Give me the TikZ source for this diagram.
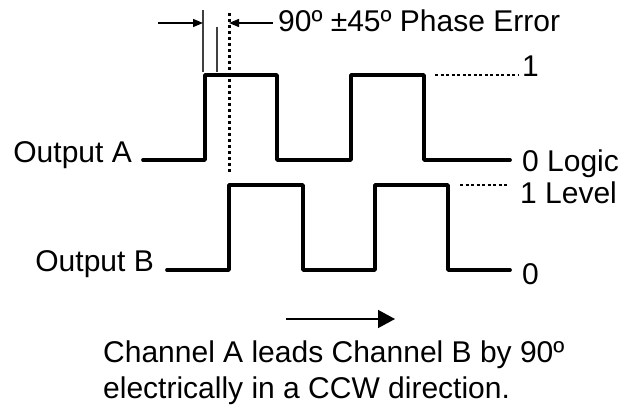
\documentclass[tikz,border=0pt]{standalone}
\usepackage{fontspec}
\setmainfont{Liberation Sans}
\usetikzlibrary{arrows.meta}
\usetikzlibrary{positioning}

\begin{document}
\begin{tikzpicture}[x=1pt,y=-1pt,
  lbl/.style={inner sep=0pt,font=\fontsize{30}{36}\selectfont},
  wave/.style={line width=3.7pt,line join=round,line cap=round},
  lvl/.style={line width=2pt,dash pattern=on 3pt off 2.5pt},
  mark line/.style={line width=1.2pt,black!75},
  small tip/.style={line width=1.3pt,-{Triangle[length=10pt,width=8pt]}},
  big tip/.style={line width=1.5pt,-{Triangle[length=17pt,width=18pt]}}]
\useasboundingbox (0,0) rectangle (624,406);
\node[lbl,anchor=base west] (err) at (278,32) {90º ±45º Phase Error};
\node[lbl,anchor=base east] (outa) at (132,163) {Output A};
\node[lbl,anchor=base east] (outb) at (154,272) {Output B};
\node[lbl,anchor=base west] (onea) at (522,77) {1};
\node[lbl,anchor=base west] (zeroa) at (522,172) {0 Logic};
\node[lbl,anchor=base west] (oneb) at (520,204) {1 Level};
\node[lbl,anchor=base west] (zerob) at (522,284) {0};
\node[lbl,anchor=base west] (notea) at (103,362) {Channel A leads Channel B by 90º};
\node[lbl,anchor=base west] (noteb) at (103,398) {electrically in a CCW direction.};
\coordinate (a0) at (143,160);
\coordinate (b0) at (167,270);
\coordinate (ta) at (203,10);
\coordinate (tb) at (217,27);
\coordinate (tc) at (229,13);
\coordinate (la) at (158,23);
\coordinate (ra) at (273,23);
\coordinate (da) at (435,75);
\coordinate (db) at (460,185);
\coordinate (ga) at (286,319);
\coordinate (gb) at (395,319);
\draw[wave] (a0) -| (205,75) -| (277,160) -| (351,75) -| (424,160) -- (510,160);
\draw[wave] (b0) -| (229,185) -| (303,270) -| (375,185) -| (448,270) -- (510,270);
\draw[lvl] (da) -- (518,75);
\draw[lvl] (db) -- (507,185);
\draw[line width=3pt,dash pattern=on 3pt off 3pt] (tc) -- (229,173);
\draw[mark line] (ta) -- (203,72);
\draw[mark line] (tb) -- (217,72);
\draw[small tip] (la) -- (ta |- la);
\draw[small tip] (ra) -- (tc |- ra);
\draw[big tip] (ga) -- (gb);
\end{tikzpicture}
\end{document}
